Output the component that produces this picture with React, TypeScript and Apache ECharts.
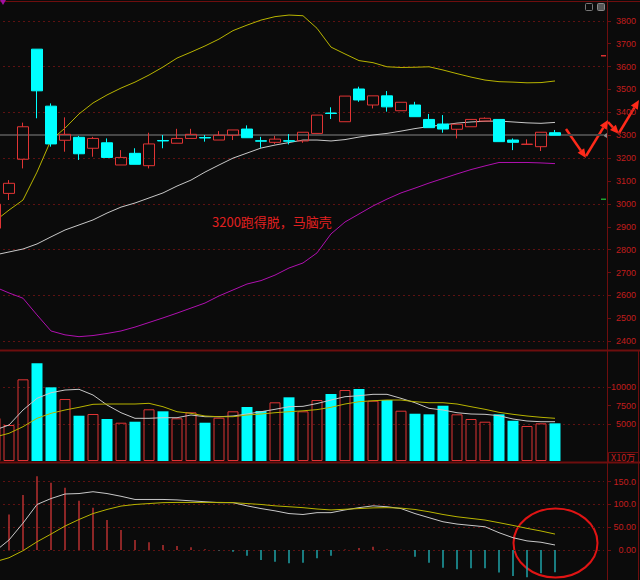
import React, { useEffect, useRef } from 'react';
import * as echarts from 'echarts';

// ---------- data (index -1 is the partly hidden candle at the left edge) ----------
const candleOpen = [2894, 3046, 3195, 3676, 3427, 3278, 3291, 3243, 3267, 3170, 3221, 3167, 3277, 3265, 3286, 3290, 3279, 3300, 3327, 3276, 3269, 3276, 3275, 3308, 3397, 3359, 3502, 3432, 3472, 3407, 3432, 3369, 3349, 3326, 3337, 3362, 3369, 3279, 3260, 3250, 3311];
const candleClose = [2999, 3090, 3337, 3494, 3262, 3304, 3219, 3286, 3203, 3203, 3173, 3262, 3275, 3286, 3304, 3288, 3300, 3323, 3289, 3274, 3283, 3274, 3313, 3388, 3395, 3471, 3454, 3472, 3424, 3444, 3381, 3333, 3327, 3348, 3369, 3374, 3272, 3269, 3261, 3313, 3300];
const candleLow = [2880, 3017, 3155, 3374, 3250, 3228, 3192, 3206, 3203, 3170, 3173, 3155, 3243, 3265, 3286, 3272, 3279, 3279, 3289, 3245, 3262, 3260, 3267, 3308, 3371, 3359, 3446, 3417, 3403, 3407, 3381, 3333, 3311, 3286, 3337, 3362, 3272, 3235, 3260, 3231, 3300];
const candleHigh = [3005, 3104, 3355, 3676, 3439, 3378, 3297, 3293, 3286, 3235, 3243, 3311, 3301, 3328, 3328, 3301, 3318, 3323, 3343, 3293, 3297, 3305, 3313, 3388, 3422, 3471, 3512, 3472, 3493, 3444, 3446, 3393, 3388, 3348, 3369, 3378, 3369, 3286, 3282, 3313, 3323];

const bandUpper = [2925, 2973, 3017, 3139, 3279, 3331, 3393, 3441, 3476, 3506, 3532, 3563, 3598, 3637, 3663, 3690, 3720, 3757, 3781, 3803, 3818, 3825, 3822, 3767, 3685, 3655, 3626, 3617, 3599, 3596, 3597, 3599, 3585, 3569, 3554, 3541, 3534, 3532, 3529, 3530, 3537];
const bandMiddle = [2777, 2790, 2803, 2825, 2856, 2886, 2908, 2930, 2960, 2986, 3004, 3026, 3048, 3078, 3104, 3139, 3170, 3200, 3222, 3244, 3257, 3268, 3279, 3279, 3275, 3281, 3292, 3301, 3308, 3318, 3329, 3338, 3345, 3353, 3358, 3361, 3362, 3358, 3354, 3352, 3356];
const bandLower = [2637, 2611, 2588, 2515, 2445, 2428, 2420, 2425, 2434, 2445, 2462, 2482, 2502, 2523, 2545, 2567, 2598, 2624, 2650, 2665, 2689, 2720, 2742, 2786, 2869, 2921, 2956, 2991, 3021, 3048, 3069, 3091, 3111, 3131, 3150, 3166, 3181, 3181, 3181, 3179, 3176];

const volume = [5809, 4864, 11038, 13199, 9957, 8376, 6120, 6350, 5674, 5174, 5309, 6985, 6714, 5769, 6579, 5174, 5850, 6714, 7295, 6755, 7930, 8606, 6714, 8241, 9052, 9592, 9727, 8146, 8241, 6795, 6390, 6309, 7471, 6309, 5674, 5309, 6309, 5444, 4729, 5093, 5093];
const volMA5 = [4188, 4864, 6890, 8471, 9227, 9592, 9687, 8917, 7566, 6525, 5769, 5769, 5850, 5850, 6215, 5985, 5985, 6080, 6350, 6660, 6985, 7336, 7390, 7768, 8241, 8687, 8822, 9011, 9011, 8471, 7876, 7120, 6890, 6525, 6350, 6309, 6120, 5674, 5404, 5309, 5309];
const volMA10 = [3242, 3742, 4634, 5769, 6444, 6890, 7255, 7660, 7701, 7701, 7701, 7795, 7336, 6660, 6444, 6080, 5985, 5985, 6215, 6350, 6525, 6660, 6782, 6944, 7255, 7701, 8011, 8146, 8241, 8241, 8011, 7876, 7876, 7701, 7336, 6985, 6579, 6309, 6080, 5904, 5769];

const macdDIF = [-3, 22, 59, 100, 113, 123, 124, 128, 124, 118, 111, 111, 111, 110, 108, 106, 104, 104, 97, 91, 86, 80, 78, 82, 82, 88, 93, 97, 95, 91, 80, 71, 62, 57, 54, 51, 38, 27, 20, 17, 11];
const macdDEA = [-26, -17, -1.5, 18, 35, 52.6, 67, 80, 89, 96.5, 100, 102, 104, 104.5, 104.5, 104.5, 104.6, 104, 102, 100, 97, 95, 93, 90, 88, 89.5, 91, 92.5, 93, 92, 89, 84, 78, 73, 69.4, 65.8, 60, 54, 47.5, 41.7, 35];
const macdHist = [null, 78, 120.6, 162, 147.6, 136.6, 108, 92.8, 65.8, 43.9, 21.9, 16.8, 11, 8.8, 5.8, 1.5, -1, -3.7, -12.4, -22, -25.6, -29, -28, -18, -12.4, 1, 4.4, 7.3, 1.5, 0.5, -14.6, -28, -38.8, -42.4, -40.2, -40, -49.7, -57, -60, -51, -49];

const priceLabels = [2400, 2500, 2600, 2700, 2800, 2900, 3000, 3100, 3200, 3300, 3400, 3500, 3600, 3700, 3800];
const priceGridLines = [2400, 2600, 2800, 3000, 3200, 3400, 3600, 3800];
const volumeLabels = [5000, 7500, 10000];
const volumeGridLines = [5000, 10000];
const macdLabels = [0, 50, 100, 150];
const macdGridLines = [0, 50, 100, 150];

const slotCount = 44; // visible bar slots, including empty space at the right
const categories = Array.from({ length: slotCount }, (_, i) => 'D' + (i - 1));

// ---------- styles ----------
const BG = '#0b0b0b';
const UP = '#e03434';
const DOWN = '#00ffff';
const AXIS_RED = '#6e0e0e';
const LABEL_RED = '#c21d1d';
const GRID_DOT = '#5e1212';
const FONT = 'Liberation Sans, Arial, sans-serif';
const SHIFT = 12; // the chart canvas starts 12px left of the page so the first candle is cut

function gridMarkLine(values: number[]) {
  return {
    silent: true,
    symbol: ['none', 'none'],
    z: 1,
    label: { show: false },
    lineStyle: { color: GRID_DOT, type: [2, 3], width: 1 },
    emphasis: { disabled: true },
    data: values.map((v) => ({ yAxis: v })),
  };
}

function arrow(x1: number, y1: number, x2: number, y2: number) {
  const dx = x2 - x1;
  const dy = y2 - y1;
  const len = Math.sqrt(dx * dx + dy * dy);
  const ux = dx / len;
  const uy = dy / len;
  const headLen = 9;
  const headW = 4;
  const bx = x2 - ux * headLen;
  const by = y2 - uy * headLen;
  return [
    {
      type: 'line',
      shape: { x1: x1 + SHIFT, y1, x2: bx + SHIFT, y2: by },
      style: { stroke: '#ff2a1a', lineWidth: 2.5 },
      silent: true,
    },
    {
      type: 'polygon',
      shape: {
        points: [
          [x2 + SHIFT, y2],
          [bx - uy * headW + SHIFT, by + ux * headW],
          [bx + uy * headW + SHIFT, by - ux * headW],
        ],
      },
      style: { fill: '#ff2a1a' },
      silent: true,
    },
  ];
}

function hline(y: number, x1: number, x2: number, w: number) {
  return { type: 'line', shape: { x1: x1 + SHIFT, y1: y, x2: x2 + SHIFT, y2: y }, style: { stroke: AXIS_RED, lineWidth: w }, silent: true };
}
function vline(x: number, y1: number, y2: number) {
  return { type: 'line', shape: { x1: x + SHIFT, y1, x2: x + SHIFT, y2 }, style: { stroke: AXIS_RED, lineWidth: 1 }, silent: true };
}

export default function App() {
  const ref = useRef<HTMLDivElement>(null);

  useEffect(() => {
    document.body.style.margin = '0';
    document.body.style.background = BG;
    document.body.style.overflow = 'hidden';
    const chart = echarts.init(ref.current as HTMLDivElement, null, { renderer: 'svg' });

    const candleData = candleOpen.map((o, i) => [o, candleClose[i], candleLow[i], candleHigh[i]]);
    const volData = volume.map((v, i) => {
      const up = candleClose[i] >= candleOpen[i];
      return {
        value: v,
        itemStyle: up
          ? { color: 'transparent', borderColor: UP, borderWidth: 1 }
          : { color: DOWN, borderWidth: 0 },
      };
    });
    const histData = macdHist.map((v) =>
      v == null ? null : { value: v, itemStyle: { color: v >= 0 ? '#b83030' : '#1fa3a8' } }
    );
    const lastClose = candleClose[candleClose.length - 1];

    const yAxisBase = {
      position: 'right' as const,
      offset: 4,
      axisLine: { show: false },
      splitLine: { show: false },
    };
    const labelBase = {
      align: 'right' as const,
      margin: 28,
      color: LABEL_RED,
      fontSize: 9,
      fontFamily: FONT,
      formatter: (v: number) => String(v),
    };

    const grids = [
      { left: 0, width: 616, top: 2, height: 347.5 },
      { left: 0, width: 616, top: 352, height: 109 },
      { left: 0, width: 616, top: 464, height: 116 },
    ];

    chart.setOption({
      animation: false,
      backgroundColor: BG,
      grid: grids,
      xAxis: [0, 1, 2].map((i) => ({
        type: 'category',
        gridIndex: i,
        data: categories,
        boundaryGap: true,
        show: false,
      })),
      yAxis: [
        {
          ...yAxisBase,
          gridIndex: 0,
          min: 2364,
          max: 3882,
          axisTick: { show: true, length: 3, customValues: priceLabels, lineStyle: { color: AXIS_RED } },
          axisLabel: { ...labelBase, customValues: priceLabels },
        },
        {
          ...yAxisBase,
          gridIndex: 1,
          min: 0,
          max: 14730,
          axisTick: { show: true, length: 3, customValues: volumeLabels, lineStyle: { color: AXIS_RED } },
          axisLabel: { ...labelBase, customValues: volumeLabels },
        },
        {
          ...yAxisBase,
          gridIndex: 2,
          min: -65.9,
          max: 188.9,
          axisTick: { show: true, length: 3, customValues: macdLabels, lineStyle: { color: AXIS_RED } },
          axisLabel: {
            ...labelBase,
            customValues: macdLabels,
            formatter: (v: number) => (Math.abs(v) >= 100 ? v.toFixed(1) : v.toFixed(2)),
          },
        },
      ],
      series: [
        {
          type: 'line',
          name: 'upper',
          xAxisIndex: 0,
          yAxisIndex: 0,
          data: bandUpper,
          symbol: 'none',
          lineStyle: { color: '#b8b400', width: 1 },
          z: 3,
          markLine: gridMarkLine(priceGridLines),
        },
        {
          type: 'line',
          name: 'middle',
          xAxisIndex: 0,
          yAxisIndex: 0,
          data: bandMiddle,
          symbol: 'none',
          lineStyle: { color: '#c8c8c8', width: 1 },
          z: 3,
        },
        {
          type: 'line',
          name: 'lower',
          xAxisIndex: 0,
          yAxisIndex: 0,
          data: bandLower,
          symbol: 'none',
          lineStyle: { color: '#b010b0', width: 1 },
          z: 3,
        },
        {
          type: 'candlestick',
          xAxisIndex: 0,
          yAxisIndex: 0,
          data: candleData,
          barWidth: 11,
          z: 4,
          itemStyle: {
            color: 'transparent',
            color0: DOWN,
            borderColor: UP,
            borderColor0: DOWN,
            borderWidth: 1,
          },
          markLine: {
            silent: true,
            symbol: ['none', 'none'],
            z: 2,
            label: { show: false },
            lineStyle: { color: '#474747', type: 'solid', width: 2 },
            data: [{ yAxis: lastClose }],
          },
        },
        {
          type: 'bar',
          xAxisIndex: 1,
          yAxisIndex: 1,
          data: volData,
          barWidth: 11,
          z: 3,
          markLine: gridMarkLine(volumeGridLines),
        },
        {
          type: 'line',
          xAxisIndex: 1,
          yAxisIndex: 1,
          data: volMA5,
          symbol: 'none',
          lineStyle: { color: '#c8c8c8', width: 1 },
          z: 4,
        },
        {
          type: 'line',
          xAxisIndex: 1,
          yAxisIndex: 1,
          data: volMA10,
          symbol: 'none',
          lineStyle: { color: '#b8b400', width: 1 },
          z: 4,
        },
        {
          type: 'bar',
          xAxisIndex: 2,
          yAxisIndex: 2,
          data: histData,
          barWidth: 1.5,
          z: 3,
          markLine: gridMarkLine(macdGridLines),
        },
        {
          type: 'line',
          xAxisIndex: 2,
          yAxisIndex: 2,
          data: macdDIF,
          symbol: 'none',
          lineStyle: { color: '#c8c8c8', width: 1 },
          z: 4,
        },
        {
          type: 'line',
          xAxisIndex: 2,
          yAxisIndex: 2,
          data: macdDEA,
          symbol: 'none',
          lineStyle: { color: '#b8b400', width: 1 },
          z: 4,
        },
      ],
      graphic: [
        // frame lines
        hline(1.5, 0, 640, 1),
        hline(350.5, 0, 640, 2),
        hline(462.5, 0, 640, 2),
        vline(607.5, 0, 580),
        vline(638.5, 351, 580),
        { type: 'rect', shape: { x: 608.5 + SHIFT, y: 452.5, width: 30, height: 10 }, style: { fill: 'none', stroke: AXIS_RED, lineWidth: 1 }, silent: true },
        {
          type: 'text',
          x: 611 + SHIFT,
          y: 453,
          style: { text: 'X10万', fill: LABEL_RED, fontSize: 9, fontFamily: 'Noto Sans CJK SC', textVerticalAlign: 'top' },
          silent: true,
        },
        // current price marker and axis marks
        { type: 'polygon', shape: { points: [[603 + SHIFT, 135.5], [607 + SHIFT, 133], [607 + SHIFT, 138]] }, style: { fill: '#8a8a8a' }, silent: true },
        { type: 'rect', shape: { x: 601 + SHIFT, y: 55, width: 5, height: 1.5 }, style: { fill: '#d83030' }, silent: true },
        { type: 'rect', shape: { x: 601 + SHIFT, y: 198.5, width: 5, height: 1.5 }, style: { fill: '#20a030' }, silent: true },
        // corner marks
        { type: 'polygon', shape: { points: [[0 + SHIFT, 0], [6 + SHIFT, 0], [3 + SHIFT, 5]] }, style: { fill: '#a010a0' }, silent: true },
        { type: 'rect', shape: { x: 585.5 + SHIFT, y: 3.5, width: 7, height: 7, r: 1 }, style: { fill: 'none', stroke: '#777', lineWidth: 1 }, silent: true },
        { type: 'rect', shape: { x: 597.5 + SHIFT, y: 3.5, width: 7, height: 7, r: 1 }, style: { fill: '#555', stroke: '#888', lineWidth: 1 }, silent: true },
        // annotation
        {
          type: 'text',
          x: 212 + SHIFT,
          y: 215,
          style: {
            text: '3200跑得脱，马脑壳',
            fill: '#e02020',
            fontSize: 13,
            fontFamily: 'Noto Sans CJK SC',
            textVerticalAlign: 'top',
          },
          silent: true,
        },
        ...arrow(566, 129, 586, 158),
        ...arrow(586, 156, 608, 120),
        ...arrow(608, 122, 619, 134),
        ...arrow(619, 133, 639, 100),
        {
          type: 'ellipse',
          shape: { cx: 555.5 + SHIFT, cy: 543, rx: 42, ry: 34.5 },
          style: { fill: 'none', stroke: '#e01414', lineWidth: 2 },
          silent: true,
        },
      ],
    });

    return () => chart.dispose();
  }, []);

  return (
    <div
      ref={ref}
      style={{ position: 'absolute', left: -SHIFT, top: 0, width: 640 + SHIFT, height: 580, background: BG }}
    />
  );
}
